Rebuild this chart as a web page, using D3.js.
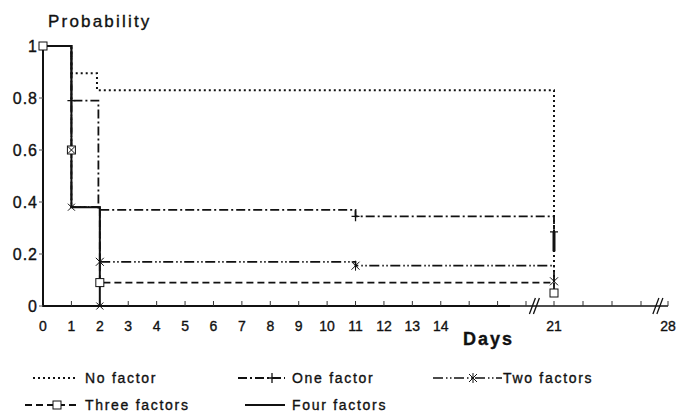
<!DOCTYPE html>
<html>
<head>
<meta charset="utf-8">
<script src="https://cdn.jsdelivr.net/npm/d3@7"></script>
<style>
  body { margin: 0; background: #fff; }
  text { font-family: "Liberation Sans", Arial, sans-serif; fill: #111; stroke: #111; stroke-width: 0.35px; }
</style>
</head>
<body>
<div id="chart"></div>
<script>
// survival curves, step after each time
var noFactorDays = [0, 1, 1.9, 21];
var noFactorProb = [1, 0.895, 0.83, 0.09];

var oneFactorDays = [0, 1, 1.95, 11, 21];
var oneFactorProb = [1, 0.79, 0.37, 0.345, 0.285];
var oneFactorDay21 = [0.285, 0.21];

var twoFactorsDays = [0, 1, 2, 11, 21];
var twoFactorsProb = [1, 0.38, 0.17, 0.155, 0.095];

var threeFactorsDays = [0, 1, 2, 21];
var threeFactorsProb = [1, 0.38, 0.09, 0.05];

var fourFactorsDays = [0, 1, 2];
var fourFactorsProb = [1, 0.38, 0];

// marker points [day, prob]
var oneFactorMarks = [[1, 0.79], [11, 0.345], [21, 0.285]];
var twoFactorsMarks = [[2, 0.17], [11, 0.155], [21, 0.095]];
var threeFactorsMarks = [[0, 1], [1, 0.6], [2, 0.09], [21, 0.05]];
var fourFactorsMarks = [[1, 0.38], [2, 0]];

var xTickDays = [1, 2, 3, 4, 5, 6, 7, 8, 9, 10, 11, 12, 13, 14, 15, 16, 17, 21, 22, 23, 24, 28];
var xTickLabels = [0, 1, 2, 3, 4, 5, 6, 7, 8, 9, 10, 11, 12, 13, 14, 21, 28];
var yTicks = [0, 0.2, 0.4, 0.6, 0.8, 1];
var axisBreaks = [18.2, 26.5];

var width = 680, height = 417;

var svg = d3.select("#chart").append("svg")
    .attr("width", width)
    .attr("height", height);

svg.append("rect").attr("width", width).attr("height", height).attr("fill", "#fff");

// broken time axis: 0-17 linear, then 21 and 28
var x = d3.scaleLinear()
    .domain([0, 17, 21, 24, 28])
    .range([43, 526, 554, 641, 668]);

var y = d3.scaleLinear()
    .domain([0, 1])
    .range([306, 46]);

// axes
svg.append("line")
    .attr("x1", x(0)).attr("x2", x(0))
    .attr("y1", y(0) + 1).attr("y2", y(1) - 2)
    .attr("stroke", "#111").attr("stroke-width", 2);

svg.append("line")
    .attr("x1", x(0) - 1).attr("x2", 510)
    .attr("y1", y(0)).attr("y2", y(0))
    .attr("stroke", "#111").attr("stroke-width", 2.2);

svg.append("line")
    .attr("x1", 510).attr("x2", x(28))
    .attr("y1", y(0)).attr("y2", y(0))
    .attr("stroke", "#111").attr("stroke-width", 1.4);

svg.selectAll(".xtick")
    .data(xTickDays)
    .enter().append("line")
    .attr("class", "xtick")
    .attr("x1", function (d) { return x(d); })
    .attr("x2", function (d) { return x(d); })
    .attr("y1", y(0))
    .attr("y2", y(0) - 5)
    .attr("stroke", "#333").attr("stroke-width", 1);

svg.selectAll(".xlabel")
    .data(xTickLabels)
    .enter().append("text")
    .attr("class", "xlabel")
    .attr("x", function (d) { return x(d); })
    .attr("y", 331)
    .attr("text-anchor", "middle")
    .style("font-size", "14px")
    .text(function (d) { return d; });

// axis break marks
axisBreaks.forEach(function (b) {
    [-2, 2].forEach(function (off) {
        svg.append("line")
            .attr("x1", x(b) + off - 3).attr("x2", x(b) + off + 3)
            .attr("y1", y(0) + 8).attr("y2", y(0) - 8)
            .attr("stroke", "#111").attr("stroke-width", 1.3);
    });
});

svg.selectAll(".ytick")
    .data(yTicks)
    .enter().append("line")
    .attr("class", "ytick")
    .attr("x1", x(0) - 4)
    .attr("x2", x(0))
    .attr("y1", function (d) { return y(d); })
    .attr("y2", function (d) { return y(d); })
    .attr("stroke", "#555").attr("stroke-width", 1);

svg.selectAll(".ylabel")
    .data(yTicks)
    .enter().append("text")
    .attr("class", "ylabel")
    .attr("x", 38)
    .attr("y", function (d) { return y(d) + 5.5; })
    .attr("text-anchor", "end")
    .style("font-size", "16px")
    .style("letter-spacing", "1px")
    .text(function (d) { return d; });

svg.append("text")
    .attr("x", 48).attr("y", 27)
    .style("font-size", "17px")
    .style("letter-spacing", "2.2px")
    .text("Probability");

svg.append("text")
    .attr("x", 463).attr("y", 345)
    .style("font-size", "18px")
    .style("font-weight", "bold")
    .style("letter-spacing", "2px")
    .text("Days");

// curves
var line = d3.line()
    .x(function (d) { return x(d[0]); })
    .y(function (d) { return y(d[1]); })
    .curve(d3.curveStepAfter);

function zipped(days, probs) {
    return days.map(function (d, i) { return [d, probs[i]]; });
}

var series = [
    { name: "No factor", pts: zipped(noFactorDays, noFactorProb), dash: "2,3", w: 2, marks: [], mark: "none" },
    { name: "One factor", pts: zipped(oneFactorDays, oneFactorProb), dash: "9,3,2,3", w: 1.8, marks: oneFactorMarks, mark: "plus" },
    { name: "Two factors", pts: zipped(twoFactorsDays, twoFactorsProb), dash: "10,3,1.5,2.5,1.5,2.5", w: 1.7, marks: twoFactorsMarks, mark: "star" },
    { name: "Three factors", pts: zipped(threeFactorsDays, threeFactorsProb), dash: "7,4", w: 1.8, marks: threeFactorsMarks, mark: "square" },
    { name: "Four factors", pts: zipped(fourFactorsDays, fourFactorsProb), dash: null, w: 2, marks: fourFactorsMarks, mark: "cross" }
];

function drawMark(g, type, cx, cy) {
    if (type == "plus") {
        g.append("path").attr("d", "M" + (cx - 4) + "," + cy + "H" + (cx + 4) + "M" + cx + "," + (cy - 5) + "V" + (cy + 5))
            .attr("stroke", "#111").attr("stroke-width", 1.3).attr("fill", "none");
    } else if (type == "star") {
        g.append("path").attr("d", "M" + (cx - 4) + "," + (cy - 4) + "L" + (cx + 4) + "," + (cy + 4) +
                "M" + (cx - 4) + "," + (cy + 4) + "L" + (cx + 4) + "," + (cy - 4) +
                "M" + cx + "," + (cy - 5) + "V" + (cy + 5))
            .attr("stroke", "#111").attr("stroke-width", 1).attr("fill", "none");
    } else if (type == "square") {
        g.append("rect").attr("x", cx - 4).attr("y", cy - 4).attr("width", 8).attr("height", 8)
            .attr("stroke", "#111").attr("stroke-width", 1).attr("fill", "#fff");
    } else if (type == "cross") {
        g.append("path").attr("d", "M" + (cx - 3.5) + "," + (cy - 3.5) + "L" + (cx + 3.5) + "," + (cy + 3.5) +
                "M" + (cx - 3.5) + "," + (cy + 3.5) + "L" + (cx + 3.5) + "," + (cy - 3.5))
            .attr("stroke", "#111").attr("stroke-width", 1).attr("fill", "none");
    }
}

var plot = svg.append("g");

series.forEach(function (s) {
    plot.append("path")
        .datum(s.pts)
        .attr("d", line)
        .attr("fill", "none")
        .attr("stroke", "#111")
        .attr("stroke-width", s.w)
        .attr("stroke-dasharray", s.dash);
});

// heavy drop of one factor at day 21
plot.append("line")
    .attr("x1", x(21)).attr("x2", x(21))
    .attr("y1", y(oneFactorDay21[0])).attr("y2", y(oneFactorDay21[1]))
    .attr("stroke", "#111").attr("stroke-width", 3);

series.forEach(function (s) {
    s.marks.forEach(function (m) {
        drawMark(plot, s.mark, x(m[0]), y(m[1]));
    });
});
// the three-factor square at day 1 also carries a cross
drawMark(plot, "cross", x(1), y(0.6));

// legend
var legendItems = [
    { s: series[0], x0: 33, x1: 77, tx: 85, ty: 378, mx: null },
    { s: series[1], x0: 238, x1: 285, tx: 292, ty: 378, mx: 272 },
    { s: series[2], x0: 433, x1: 502, tx: 503, ty: 378, mx: 473 },
    { s: series[3], x0: 25, x1: 78, tx: 85, ty: 405, mx: 57 },
    { s: series[4], x0: 245, x1: 285, tx: 292, ty: 405, mx: null }
];

legendItems.forEach(function (it) {
    svg.append("line")
        .attr("x1", it.x0).attr("x2", it.x1)
        .attr("y1", it.ty).attr("y2", it.ty)
        .attr("stroke", "#111")
        .attr("stroke-width", it.s.w)
        .attr("stroke-dasharray", it.s.dash);
    if (it.mx !== null) {
        drawMark(svg, it.s.mark, it.mx, it.ty);
    }
    svg.append("text")
        .attr("x", it.tx).attr("y", it.ty + 5)
        .style("font-size", "14px")
        .style("letter-spacing", "1.7px")
        .text(it.s.name);
});
</script>
</body>
</html>
